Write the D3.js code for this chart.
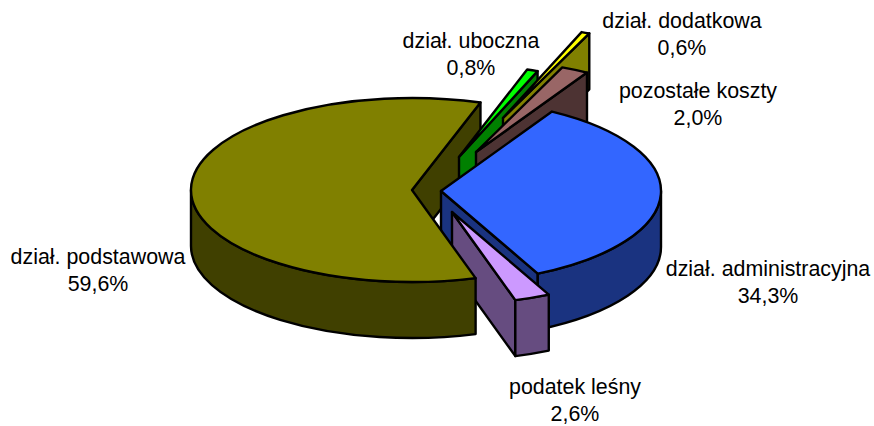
<!DOCTYPE html>
<html><head><meta charset="utf-8">
<script src="https://cdn.jsdelivr.net/npm/d3@7"></script>
<style>html,body{margin:0;padding:0;background:#fff}svg{display:block}</style></head>
<body><svg id="c" width="874" height="426"></svg>
<script>
const categories=["dział. administracyjna","podatek leśny","dział. podstawowa","dział. uboczna","dział. dodatkowa","pozostałe koszty"];
const values=[34.3,2.6,59.6,0.8,0.6,2.0];
const valueLabels=["34,3%","2,6%","59,6%","0,8%","0,6%","2,0%"];
const topColors=["#3366FF","#CC99FF","#808000","#00FF00","#FFFF00","#996666"];
const sideColors=["#1A3380","#664C80","#404000","#008000","#808000","#4D3333"];
// exploded slice apex of each wedge in the picture
const apexX=[441,452,412,459,503,476];
const apexY=[191,212,190,157,118,152];
const labelX=[768,575,98,471,682,698];
const labelY=[276,394,264,48,28,98];
const rx=220, ry=92, depth=56, startDeg=30.3;

const svg=d3.select("#c");
const rad=d=>d*Math.PI/180;
const arcs=d3.pie().sort(null).startAngle(rad(startDeg)).endAngle(rad(startDeg+360))(values);
const R=i=>i===2?rx+1:rx;
const px=(i,a)=>apexX[i]+R(i)*Math.sin(a);
const py=(i,a)=>apexY[i]-ry*Math.cos(a);
function topPath(i){const a=arcs[i];const large=a.endAngle-a.startAngle>Math.PI?1:0;
 return `M${apexX[i]},${apexY[i]}L${px(i,a.startAngle)},${py(i,a.startAngle)}A${R(i)},${ry} 0 ${large} 1 ${px(i,a.endAngle)},${py(i,a.endAngle)}Z`;}
function cutPath(i){const e=arcs[i].endAngle;const x=px(i,e),y=py(i,e);
 return `M${apexX[i]},${apexY[i]}L${x},${y}V${y+depth}L${apexX[i]},${apexY[i]+depth}Z`;}
function rimPath(i){const a=arcs[i];const s=Math.max(a.startAngle,Math.PI/2),e=Math.min(a.endAngle,Math.PI*1.5);
 if(e<=s)return null;
 return `M${px(i,s)},${py(i,s)}A${R(i)},${ry} 0 0 1 ${px(i,e)},${py(i,e)}V${py(i,e)+depth}A${R(i)},${ry} 0 0 0 ${px(i,s)},${py(i,s)+depth}Z`;}
const g=svg.append("g").attr("stroke","#000").attr("stroke-width",2.4).attr("stroke-linejoin","round");
function add(d,fill){if(d)g.append("path").attr("d",d).attr("fill",fill);}
function drawCut(i){add(cutPath(i),sideColors[i]);}
function drawRim(i){add(rimPath(i),sideColors[i]);}
function drawTop(i){add(topPath(i),topColors[i]);}
drawCut(2);
[3,4,5].forEach(i=>{drawCut(i);drawTop(i);});
drawCut(0);drawRim(0);drawTop(0);
drawCut(1);drawRim(1);drawTop(1);
drawRim(2);drawTop(2);
const t=svg.append("g").attr("font-family","'Liberation Sans',Arial,sans-serif").attr("font-size",21.4).attr("fill","#000").attr("text-anchor","middle");
categories.forEach((c,i)=>{
 t.append("text").attr("x",labelX[i]).attr("y",labelY[i]).text(c);
 t.append("text").attr("x",labelX[i]).attr("y",labelY[i]+27).text(valueLabels[i]);
});
</script></body></html>
